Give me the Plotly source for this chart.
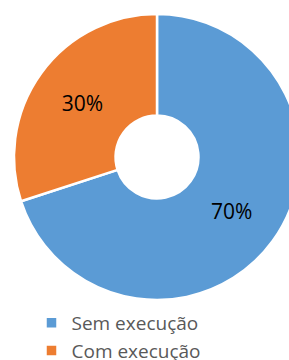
import plotly.graph_objects as go

labels = ["Sem execução", "Com execução"]
values = [70, 30]
colors = ["#5B9BD5", "#ED7D31"]

W, H = 300, 380
cx, cy, r = 157, 157, 143

fig = go.Figure(go.Pie(
    labels=labels,
    values=values,
    hole=0.29,
    sort=False,
    direction="clockwise",
    rotation=0,
    marker=dict(colors=colors, line=dict(color="white", width=2.5)),
    textinfo="percent",
    texttemplate="%{percent:.0%}",
    textposition="inside",
    insidetextorientation="horizontal",
    textfont=dict(family="Open Sans", size=21, color="black"),
    domain=dict(x=[(cx - r) / W, (cx + r) / W], y=[(H - cy - r) / H, (H - cy + r) / H]),
))

fig.update_layout(
    width=W, height=H,
    margin=dict(l=0, r=0, t=0, b=0),
    paper_bgcolor="white",
    showlegend=True,
    legend=dict(
        x=0.105, y=(H - 304) / H, xanchor="left", yanchor="top",
        font=dict(family="Open Sans", size=19, color="#595959"),
        tracegroupgap=0,
        bgcolor="rgba(0,0,0,0)",
    ),
)

fig.write_html("out.html", config={"displayModeBar": False},
               post_script="document.body.style.margin='0';document.body.style.overflow='hidden';")
